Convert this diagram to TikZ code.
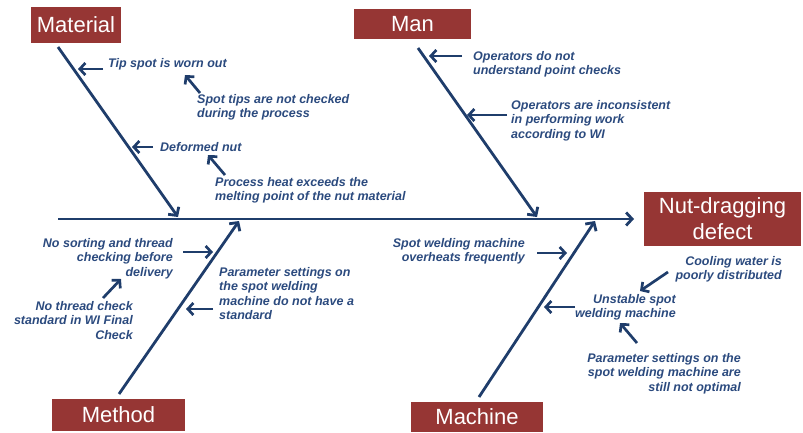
\documentclass[tikz,border=0pt]{standalone}
\usepackage{fontspec}
\setmainfont{Liberation Sans}
\usetikzlibrary{arrows.meta}
\definecolor{boxred}{HTML}{963634}
\definecolor{bone}{HTML}{1F3D6B}
\definecolor{causetxt}{HTML}{2B4A7E}
\tikzset{
  catbox/.style={fill=boxred, text=white, inner sep=0pt, font=\fontsize{22}{26}\selectfont, align=center},
  bonel/.style={draw=bone, line width=2.8pt, -{Straight Barb[length=6pt,width=13pt]}},
  subarr/.style={draw=bone, line width=2.7pt, -{Straight Barb[length=5.5pt,width=12pt]}},
  cause/.style={text=causetxt, inner sep=0pt, font=\fontsize{12.5}{14.5}\selectfont\bfseries\itshape},
}
\begin{document}
\begin{tikzpicture}[x=1pt,y=-1pt]
\useasboundingbox (0,0) rectangle (803,432);
% category boxes
\node[catbox, minimum width=90pt, minimum height=36pt] (mat) at (76,25) {Material};
\node[catbox, minimum width=117pt, minimum height=30pt] (man) at (412.5,24) {Man};
\node[catbox, minimum width=157pt, minimum height=54pt] (eff) at (722.5,219) {Nut-dragging\\defect};
\node[catbox, minimum width=133pt, minimum height=32pt] (met) at (118.5,415) {Method};
\node[catbox, minimum width=132pt, minimum height=30pt] (mac) at (477,417) {Machine};
% spine
\coordinate (s0) at (58,219);
\coordinate (s1) at (634,219);
\draw[bonel] (s0) -- (s1);
% bones
\coordinate (b1a) at (58,47);   \coordinate (b1b) at (178,217);
\coordinate (b2a) at (418,48);  \coordinate (b2b) at (537,217);
\coordinate (b3a) at (119,394); \coordinate (b3b) at (239,221);
\coordinate (b4a) at (479,397); \coordinate (b4b) at (595,221);
\draw[bonel] (b1a) -- (b1b);
\draw[bonel] (b2a) -- (b2b);
\draw[bonel] (b3a) -- (b3b);
\draw[bonel] (b4a) -- (b4b);
% Material causes
\node[cause, anchor=base west] (c1) at (108,67) {Tip spot is worn out};
\coordinate (c1a) at (103,69); \coordinate (c1b) at (78,69);
\draw[subarr] (c1a) -- (c1b);
\node[cause, anchor=north west, align=left] (c2) at (197,94) {Spot tips are not checked\\during the process};
\coordinate (c2a) at (200,93); \coordinate (c2b) at (185,75);
\draw[subarr] (c2a) -- (c2b);
\node[cause, anchor=base west] (c3) at (160,151) {Deformed nut};
\coordinate (c3a) at (153,147); \coordinate (c3b) at (132,147);
\draw[subarr] (c3a) -- (c3b);
\node[cause, anchor=north west, align=left] (c4) at (215,177) {Process heat exceeds the\\melting point of the nut material};
\coordinate (c4a) at (225,175); \coordinate (c4b) at (208,155);
\draw[subarr] (c4a) -- (c4b);
% Man causes
\node[cause, anchor=north west, align=left] (c5) at (473,51) {Operators do not\\understand point checks};
\coordinate (c5a) at (462,56); \coordinate (c5b) at (429,56);
\draw[subarr] (c5a) -- (c5b);
\node[cause, anchor=north west, align=left] (c6) at (511,100) {Operators are inconsistent\\in performing work\\according to WI};
\coordinate (c6a) at (507,115); \coordinate (c6b) at (467,115);
\draw[subarr] (c6a) -- (c6b);
% Method causes
\node[cause, anchor=north east, align=right] (c7) at (173,238) {No sorting and thread\\checking before\\delivery};
\coordinate (c7a) at (183,252); \coordinate (c7b) at (213,252);
\draw[subarr] (c7a) -- (c7b);
\node[cause, anchor=north east, align=right] (c8) at (133,301) {No thread check\\standard in WI Final\\Check};
\coordinate (c8a) at (103,298); \coordinate (c8b) at (121,279);
\draw[subarr] (c8a) -- (c8b);
\node[cause, anchor=north west, align=left] (c9) at (219,267) {Parameter settings on\\the spot welding\\machine do not have a\\standard};
\coordinate (c9a) at (213,309); \coordinate (c9b) at (186,309);
\draw[subarr] (c9a) -- (c9b);
% Machine causes
\node[cause, anchor=north east, align=right] (c10) at (525,238) {Spot welding machine\\overheats frequently};
\coordinate (c10a) at (537,253); \coordinate (c10b) at (567,253);
\draw[subarr] (c10a) -- (c10b);
\node[cause, anchor=north east, align=right] (c11) at (782,256) {Cooling water is\\poorly distributed};
\coordinate (c11a) at (668,272); \coordinate (c11b) at (640,291);
\draw[subarr] (c11a) -- (c11b);
\node[cause, anchor=north east, align=right] (c12) at (676,294) {Unstable spot\\welding machine};
\coordinate (c12a) at (575,307); \coordinate (c12b) at (544,307);
\draw[subarr] (c12a) -- (c12b);
\coordinate (c13a) at (637,343); \coordinate (c13b) at (620,323);
\draw[subarr] (c13a) -- (c13b);
\node[cause, anchor=north east, align=right] (c13) at (741,353) {Parameter settings on the\\spot welding machine are\\still not optimal};
\end{tikzpicture}
\end{document}
